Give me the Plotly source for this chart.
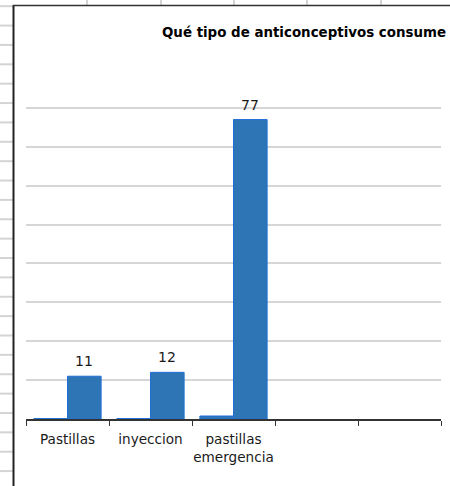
import plotly.graph_objects as go

# Categories on the x axis (two trailing empty slots)
categories = ["Pastillas", "inyeccion", "pastillas<br>emergencia", " ", "  "]
used = categories[:3]

# Share (fraction) and count for each method
share = [0.11, 0.12, 0.77]
count = [11, 12, 77]

title_text = "Qué tipo de anticonceptivos consume"

W, H = 450, 486
L, R, T, B = 26, 9, 69, 67
PW, PH = W - L - R, H - T - B

def px_x(x):
    return (x - L) / PW

def px_y(y):
    return 1 - (y - T) / PH

fill = "#2E75B6"
edge = "#1F6FD6"

fig = go.Figure()
fig.add_trace(go.Bar(x=used, y=share, marker=dict(color=fill, line=dict(color=edge, width=1)),
                     name="share"))
fig.add_trace(go.Bar(x=used, y=count, marker=dict(color=fill, line=dict(color=edge, width=1)),
                     name="count"))

# value labels above the count bars
slot = PW / len(categories)
bar_w = slot * (1 - 0.19) / 2
for c, v in zip(used, count):
    fig.add_annotation(x=c, y=v, text=str(v), showarrow=False, xref="x", yref="y",
                       xshift=bar_w / 2, yanchor="bottom", yshift=5,
                       font=dict(family="DejaVu Sans", size=14, color="#1a1a1a"))

shapes = []
# surrounding worksheet cell lines
grid_col = "#d4d4d4"
y0 = 6.2
while y0 < H:
    shapes.append(dict(type="line", xref="paper", yref="paper", x0=px_x(0), x1=px_x(13),
                       y0=px_y(y0), y1=px_y(y0), line=dict(color=grid_col, width=2)))
    y0 += 19.37
for xc in [87, 161, 234, 307, 381]:
    shapes.append(dict(type="line", xref="paper", yref="paper", x0=px_x(xc), x1=px_x(xc),
                       y0=px_y(0), y1=px_y(5), line=dict(color=grid_col, width=2)))
# chart frame (left and top edges)
shapes.append(dict(type="line", xref="paper", yref="paper", x0=px_x(13.5), x1=px_x(13.5),
                   y0=px_y(5), y1=px_y(H), line=dict(color="#222222", width=2)))
shapes.append(dict(type="line", xref="paper", yref="paper", x0=px_x(13), x1=px_x(W),
                   y0=px_y(5.5), y1=px_y(5.5), line=dict(color="#333333", width=1.5)))

fig.update_layout(
    width=W, height=H,
    margin=dict(l=L, r=R, t=T, b=B, autoexpand=False),
    paper_bgcolor="white", plot_bgcolor="white",
    barmode="group", bargap=0.19, bargroupgap=0,
    showlegend=False,
    shapes=shapes,
    title=dict(text="<b>" + title_text + "</b>", x=446 / W, xanchor="right",
               y=1 - 32 / H, yanchor="middle", xref="container",
               font=dict(family="DejaVu Sans", size=13.4, color="black")),
    font=dict(family="DejaVu Sans", size=14, color="#1a1a1a"),
)
fig.update_xaxes(type="category", categoryorder="array", categoryarray=categories,
                 range=[-0.5, 4.5], tickson="boundaries", ticks="outside", ticklen=5,
                 tickcolor="#333333", showline=True, linecolor="#333333", linewidth=1.5,
                 showgrid=False, tickangle=0, automargin=False, ticklabelstandoff=7,
                 tickfont=dict(family="DejaVu Sans", size=13.6, color="#1a1a1a"))
fig.update_yaxes(range=[0, 90], dtick=10, showgrid=True, gridcolor="#d6d6d6", gridwidth=1.5,
                 showticklabels=False, zeroline=False, showline=False, automargin=False)

fig.write_html("out.html")
